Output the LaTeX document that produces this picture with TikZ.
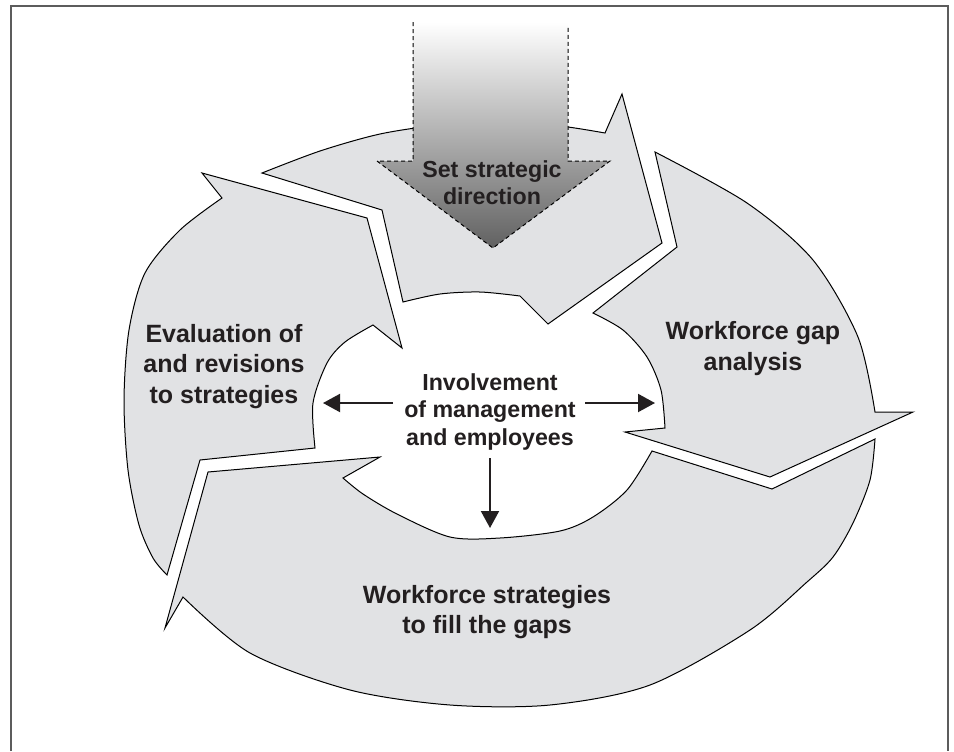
\documentclass[tikz,border=0pt]{standalone}
\usepackage{fontspec}
\setmainfont{Liberation Sans}
\usetikzlibrary{arrows.meta}

\definecolor{ringgray}{HTML}{E1E2E4}
\definecolor{framegray}{HTML}{5C5C5C}
\definecolor{inkblack}{HTML}{231F20}

\tikzset{
  ringarrow/.style={fill=ringgray, draw=black, line width=0.5pt, line join=miter},
  ringlabel/.style={font=\bfseries\fontsize{12.5}{15.25}\selectfont, align=center, inner sep=0pt, text=inkblack},
  midlabel/.style={font=\bfseries\fontsize{11.6}{13.75}\selectfont, align=center, inner sep=0pt, text=inkblack},
  midarrow/.style={line width=1pt, inkblack, -{Triangle[length=8.5pt,width=9pt]}},
  dashedge/.style={dash pattern=on 2pt off 1.5pt, line width=0.5pt}
}

\begin{document}
\begin{tikzpicture}[x=0.5pt, y=-0.5pt]
\useasboundingbox (0,0) rectangle (954,751);

% frame
\draw[framegray, line width=1pt] (11,751) -- (11,5.5) -- (948,5.5) -- (948,751);

% top arrow
\draw[ringarrow] (262,173) -- (382,210) -- (403,302)
  -- plot[smooth] coordinates {(403,302) (440,294) (480,292) (520,296)}
  -- (548,324) -- (662,243) -- (622,94) -- (605,133)
  -- plot[smooth] coordinates {(605,133) (560,126) (500,122) (440,125) (380,134) (320,151) (262,173)}
  -- cycle;

% right arrow
\draw[ringarrow] (655,152) -- (677,247) -- (593,313)
  -- plot[smooth] coordinates {(593,313) (623,330) (647,357) (661,390) (665,428)}
  -- (625,432) -- (770,477) -- (913,412) -- (875,412)
  -- plot[smooth] coordinates {(875,412) (858,337) (813,260) (747,203) (655,152)}
  -- cycle;

% bottom arrow
\draw[ringarrow] (875,439) -- (772,489) -- (652,451)
  -- plot[smooth] coordinates {(652,451) (627,490) (593,517) (560,531) (500,538) (450,537) (397,514) (363,494) (343,478)}
  -- (380,457) -- (208,472) -- (165,628) -- (183,597)
  -- plot[smooth] coordinates {(183,597) (250,653) (350,690) (450,705) (550,705) (650,685) (750,630) (807,582) (833,557) (853,523) (870,480) (875,439)}
  -- cycle;

% left arrow
\draw[ringarrow] (167,575) -- (200,460) -- (315,448)
  -- plot[smooth] coordinates {(315,448) (313,403) (327,363) (345,342) (373,325)}
  -- (402,348) -- (367,218) -- (202,173) -- (222,198)
  -- plot[smooth] coordinates {(222,198) (180,230) (145,273) (129,330) (124,400) (128,470) (139,525) (153,558) (167,575)}
  -- cycle;

% strategic direction
\shade[top color=white, bottom color=black!62] (413,22) -- (413,161) -- (377,161) -- (493,248)
  -- (610,161) -- (568,161) -- (568,22) -- cycle;
\draw[dashedge] (413,22) -- (413,161) -- (377,161) -- (493,248) -- (610,161) -- (568,161) -- (568,27);

% labels
\node[midlabel] (direction) at (492,182.5) {Set strategic\\direction};
\node[ringlabel] (gap) at (753,348.5) {Workforce gap\\analysis};
\node[ringlabel] (strategies) at (487,612) {Workforce strategies\\to fill the gaps};
\node[ringlabel] (evaluation) at (224,366.5) {Evaluation of\\and revisions\\to strategies};
\node[midlabel] (involve) at (490,411.5) {Involvement\\of management\\and employees};

% arrows out of the centre
\coordinate (lstart) at (393,403);
\coordinate (ltip) at (323,403);
\coordinate (rstart) at (585,403);
\coordinate (rtip) at (655,403);
\coordinate (dstart) at (490,458);
\coordinate (dtip) at (490,528);
\draw[midarrow] (lstart) -- (ltip);
\draw[midarrow] (rstart) -- (rtip);
\draw[midarrow] (dstart) -- (dtip);

\end{tikzpicture}
\end{document}
